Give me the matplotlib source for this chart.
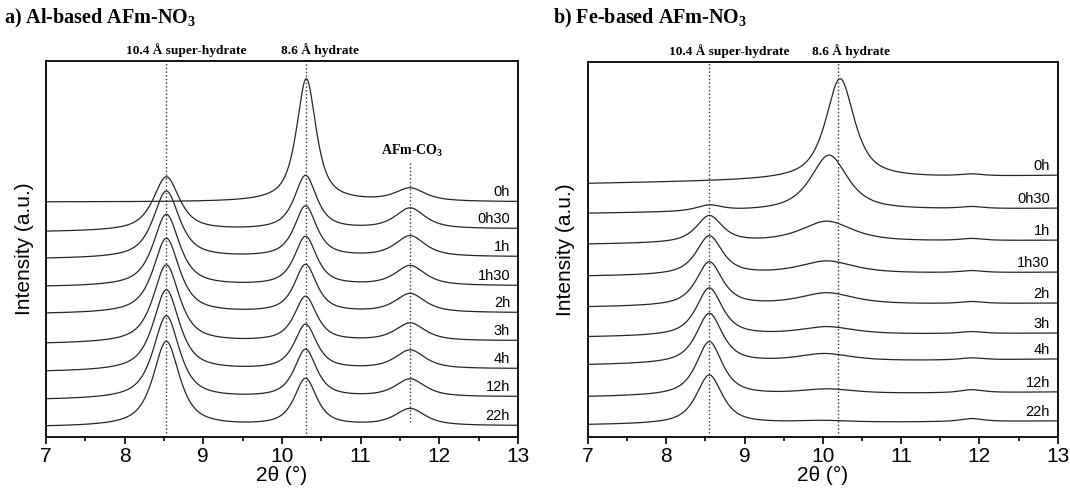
"""stacked XRD patterns of AFm-NO3 during ageing"""

import matplotlib
matplotlib.use("Agg")
import matplotlib.pyplot as plt
import numpy as np

plt.rcParams['font.family'] = ['Liberation Sans', 'DejaVu Sans']
plt.rcParams['mathtext.fontset'] = 'custom'
plt.rcParams['mathtext.rm'] = 'Liberation Serif:bold'
plt.rcParams['mathtext.bf'] = 'Liberation Serif:bold'

times = ["0h", "0h30", "1h", "1h30", "2h", "3h", "4h", "12h", "22h"]

# Al-based: baseline at 7 and 13 deg, then three reflections
al_base_start = [235, 205, 178, 150, 123, 93, 65, 37, 10]
al_base_end = [235, 208, 180, 151, 124, 96, 68, 40, 11]
al_super_pos = [8.53] * 9
al_super_h = [0, 54, 67, 72, 75, 78, 81, 83, 85]
al_super_w = [0.40] * 9
al_hyd_pos = [10.31, 10.30, 10.30, 10.30, 10.30, 10.30, 10.30, 10.30, 10.30]
al_hyd_h = [123, 54, 51, 49, 48, 45, 45, 48, 47]
al_hyd_w = [0.30, 0.34, 0.34, 0.34, 0.34, 0.34, 0.34, 0.34, 0.34]
al_co3_pos = [11.63] * 9
al_co3_h = [13, 21, 21, 20, 19, 18, 19, 18, 17]
al_co3_w = [0.46] * 9

# Fe-based
fe_base_start = [254, 224, 193, 161, 130, 100, 72, 40, 12]
fe_base_end = [262, 229, 197, 165, 134, 104, 78, 45, 16]
fe_super_pos = [8.55] * 9
fe_super_h = [0, 6, 27, 39, 44, 48, 50, 54, 49]
fe_super_w = [0.40] * 9
fe_hyd_pos = [10.22, 10.08, 10.05, 10.05, 10.05, 10.05, 10.02, 10.05, 10.0]
fe_hyd_h = [101, 56, 21, 13, 12, 8, 8, 5, 2]
fe_hyd_w = [0.44, 0.57, 0.80, 0.85, 0.85, 0.85, 0.85, 0.85, 0.85]
fe_small_pos = [11.9] * 9
fe_small_h = [2, 2, 2, 2, 2, 2, 2, 3, 3]
fe_small_w = [0.35] * 9


def pvoigt(x, pos, h, fwhm, eta=0.8):
    g = np.exp(-4 * np.log(2) * ((x - pos) / fwhm) ** 2)
    l = 1 / (1 + ((x - pos) / (fwhm / 2)) ** 2)
    return h * (eta * l + (1 - eta) * g)


x = np.linspace(7, 13, 1201)


def pattern(i, base_start, base_end, peaks):
    y = base_start[i] + (base_end[i] - base_start[i]) * (x - 7) / 6
    for pos, h, w in peaks:
        y = y + pvoigt(x, pos[i], h[i], w[i])
    return y


fig = plt.figure(figsize=(10.70, 4.96), dpi=100)
ax1 = fig.add_axes([0.043, 0.119, 0.441, 0.758])
ax2 = fig.add_axes([0.5495, 0.119, 0.439, 0.756])

serif = dict(family='Liberation Serif', fontweight='bold')

panels = [
    (ax1, al_base_start, al_base_end,
     [(al_super_pos, al_super_h, al_super_w),
      (al_hyd_pos, al_hyd_h, al_hyd_w),
      (al_co3_pos, al_co3_h, al_co3_w)]),
    (ax2, fe_base_start, fe_base_end,
     [(fe_super_pos, fe_super_h, fe_super_w),
      (fe_hyd_pos, fe_hyd_h, fe_hyd_w),
      (fe_small_pos, fe_small_h, fe_small_w)]),
]

for ax, bs, be, peaks in panels:
    for i, t in enumerate(times):
        y = pattern(i, bs, be, peaks)
        ax.plot(x, y, color='#262626', lw=0.9)
        ax.text(12.9, y[-1] + 9, t, ha='right', va='center', fontsize=10.5)
    ax.set_xlim(7, 13)
    ax.set_ylim(0, 376)
    ax.set_yticks([])
    ax.set_xticks(range(7, 14))
    ax.set_xticks(np.arange(7.5, 13, 1.0), minor=True)
    ax.tick_params(axis='x', which='major', direction='out', length=5, width=1.2, labelsize=15, pad=2)
    ax.tick_params(axis='x', which='minor', direction='out', length=3, width=1.2)
    for s in ax.spines.values():
        s.set_linewidth(1.3)
    ax.set_xlabel("2θ (°)", fontsize=15, labelpad=0)
    ax.set_ylabel("Intensity (a.u.)", fontsize=15, labelpad=9)

# reference lines and phase labels
ax1.axvline(8.53, ymin=0.01, color='#333333', lw=1, ls=':')
ax1.axvline(10.31, ymin=0.0, color='#333333', lw=1, ls=':')
ax1.axvline(11.63, ymin=0.04, ymax=0.73, color='#333333', lw=1, ls=':')
ax1.text(11.66, 286, "AFm-CO$_\\mathrm{3}$", ha='center', va='center', fontsize=10, **serif)
ax1.annotate("10.4 Å super-hydrate", xy=(8.78, 1.0), xycoords=('data', 'axes fraction'),
             xytext=(0, 3), textcoords='offset points', ha='center', va='bottom', fontsize=9.6, **serif)
ax1.annotate("8.6 Å hydrate", xy=(10.49, 1.0), xycoords=('data', 'axes fraction'),
             xytext=(0, 3), textcoords='offset points', ha='center', va='bottom', fontsize=9.6, **serif)

ax2.axvline(8.55, ymin=0.01, color='#333333', lw=1, ls=':')
ax2.axvline(10.19, ymin=0.01, color='#333333', lw=1, ls=':')
ax2.annotate("10.4 Å super-hydrate", xy=(8.80, 1.0), xycoords=('data', 'axes fraction'),
             xytext=(0, 3), textcoords='offset points', ha='center', va='bottom', fontsize=9.6, **serif)
ax2.annotate("8.6 Å hydrate", xy=(10.36, 1.0), xycoords=('data', 'axes fraction'),
             xytext=(0, 3), textcoords='offset points', ha='center', va='bottom', fontsize=9.6, **serif)

fig.text(0.004, 0.962, "a) Al-based AFm-NO$_\\mathrm{3}$", ha='left', va='center', fontsize=14.5, **serif)
fig.text(0.517, 0.962, "b) Fe-based AFm-NO$_\\mathrm{3}$", ha='left', va='center', fontsize=14.5, **serif)

fig.savefig("out.png", dpi=100)
